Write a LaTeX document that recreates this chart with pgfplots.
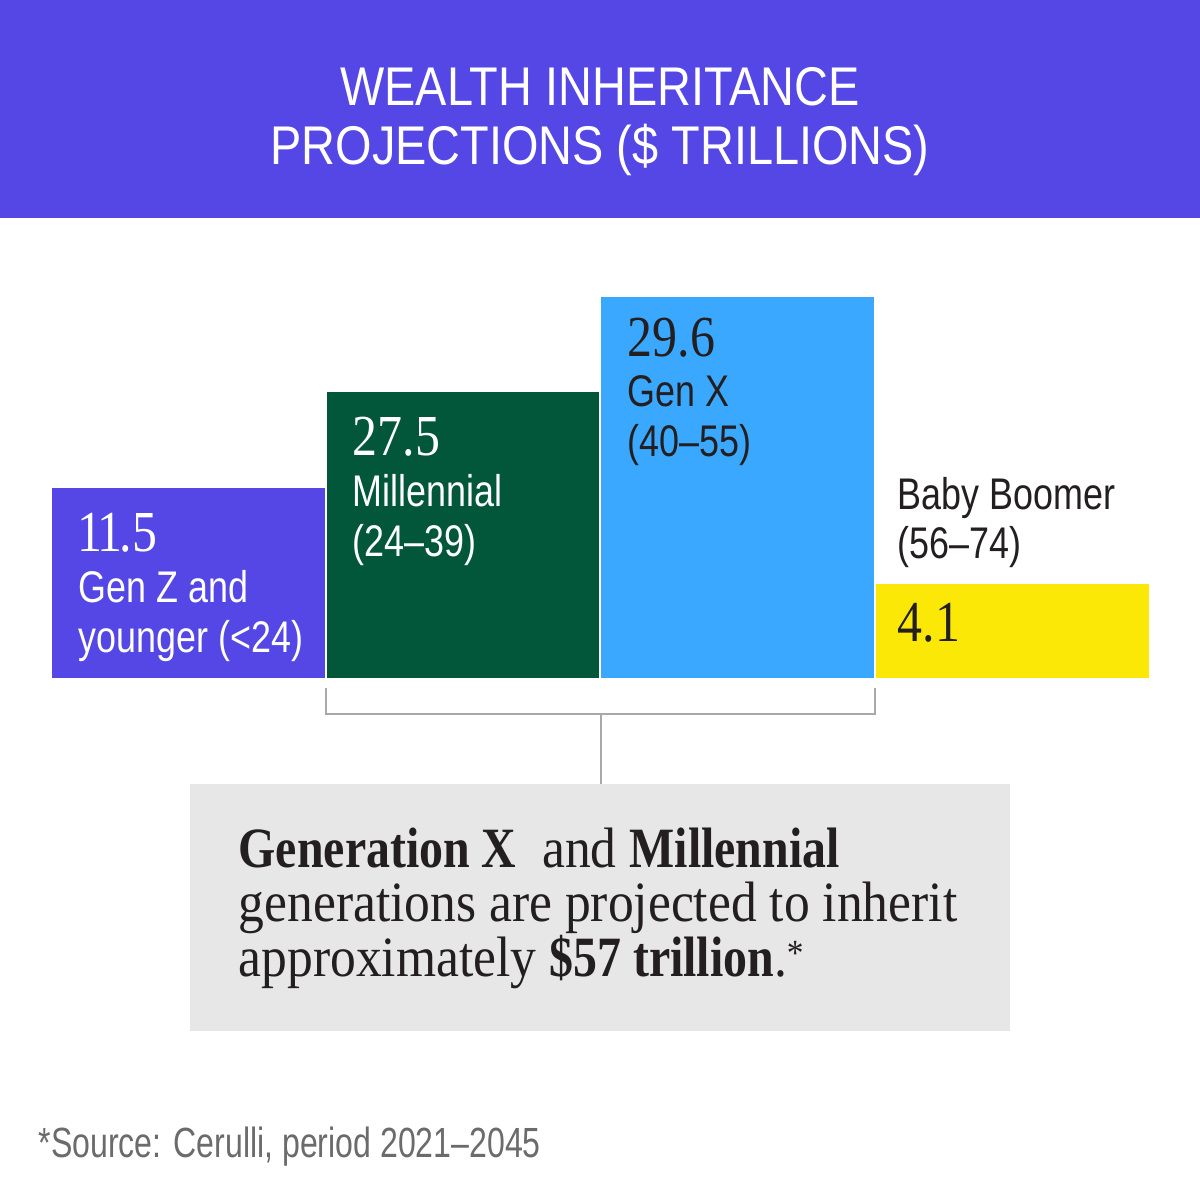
\documentclass[border=0pt]{standalone}
\usepackage{pgfplots}
\pgfplotsset{compat=1.18}
\usepackage{fontspec}
\setmainfont{Liberation Sans}
\newfontfamily\condsans[FakeStretch=0.81]{Liberation Sans}
\newfontfamily\footsans[FakeStretch=0.76]{Liberation Sans}
\newfontfamily\titlesans[FakeStretch=0.86]{Liberation Sans}
\newfontfamily\condserif[FakeStretch=0.86]{Liberation Serif}
\newfontfamily\boxserif[FakeStretch=0.905]{Liberation Serif}
\newfontfamily\boxbold[FakeStretch=0.84]{Liberation Serif}
\newcommand{\bb}[1]{{\boxbold\bfseries #1}}
\definecolor{hdr}{HTML}{5447E6}
\definecolor{genz}{HTML}{5447E6}
\definecolor{mill}{HTML}{02573A}
\definecolor{genx}{HTML}{3AA8FF}
\definecolor{boom}{HTML}{FBE806}
\definecolor{boxgray}{HTML}{E7E7E7}
\definecolor{brk}{HTML}{A9A9A9}
\definecolor{ink}{HTML}{231F20}
\definecolor{foot}{HTML}{6B6B6B}
\begin{document}
\begin{tikzpicture}[x=0.01cm,y=0.01cm]
% canvas
\fill[white] (0,0) rectangle (1200,1200);
\fill[hdr] (0,982) rectangle (1200,1200);
\node[anchor=base, inner sep=0, text=white, font=\titlesans\fontsize{15.5}{15.5}\selectfont] at (600,1094) {WEALTH INHERITANCE};
\node[anchor=base, inner sep=0, text=white, font=\titlesans\fontsize{15.5}{15.5}\selectfont] at (600,1035) {PROJECTIONS (\$ TRILLIONS)};
% bars: values 11.5, 27.5, 29.6, 4.1 trillion; drawn heights follow the reference (rank order)
\begin{axis}[at={(0.51cm,5.21cm)}, anchor=south west, scale only axis,
  width=10.98cm, height=3.83cm, hide axis, clip=false,
  xmin=-0.5, xmax=3.5, ymin=0, ymax=4]
\addplot[ybar, bar width=1, bar shift=0, fill=genz, draw=white, line width=0.6pt] coordinates {(0,2)};
\addplot[ybar, bar width=1, bar shift=0, fill=mill, draw=white, line width=0.6pt] coordinates {(1,3)};
\addplot[ybar, bar width=1, bar shift=0, fill=genx, draw=white, line width=0.6pt] coordinates {(2,4)};
\addplot[ybar, bar width=1, bar shift=0, fill=boom, draw=white, line width=0.6pt] coordinates {(3,1)};
\end{axis}
% value labels
\tikzset{num/.style={anchor=base west, inner sep=0, font=\condserif\fontsize{16.5}{16.5}\selectfont},
         lab/.style={anchor=base west, inner sep=0, font=\condsans\fontsize{12.6}{12.6}\selectfont}}
\node[num, text=white] at (77,648) {1\kern-1.6pt1\kern-0.6pt.5};
\node[lab, text=white] at (78,597) {Gen Z and};
\node[lab, text=white] at (78,547) {younger (<24)};
\node[num, text=white] at (352,744) {27.5};
\node[lab, text=white] at (352,693) {Millennial};
\node[lab, text=white] at (352,643) {(24–39)};
\node[num, text=ink] at (627,843) {29.6};
\node[lab, text=ink] at (627,793) {Gen X};
\node[lab, text=ink] at (627,743) {(40–55)};
\node[lab, text=ink] at (897,690) {Baby Boomer};
\node[lab, text=ink] at (897,641) {(56–74)};
\node[num, text=ink] at (897,558) {4.1};
% bracket
\draw[brk, line width=0.6pt] (326,512) -- (326,486) -- (875,486) -- (875,512);
\draw[brk, line width=0.6pt] (601,486) -- (601,416);
% callout box
\fill[boxgray] (190,416) rectangle (1010,169);
\tikzset{bx/.style={anchor=base west, inner sep=0, text=ink, font=\boxserif\fontsize{16.2}{16.2}\selectfont}}
\node[bx] at (238,332) {\bb{Generation X}\ \ and \bb{Millennial}};
\node[bx] at (238,278) {generations are projected to inherit};
\node[bx] at (238,223) {approximately \bb{\$57 trillion}.{\fontsize{10.5}{10.5}\selectfont\raisebox{3.2pt}{*}}};
% footnote
\node[anchor=base west, inner sep=0, text=foot, font=\footsans\fontsize{12}{12}\selectfont] at (38,42) {*Source: Cerulli, period 2021–2045};
\end{tikzpicture}
\end{document}
